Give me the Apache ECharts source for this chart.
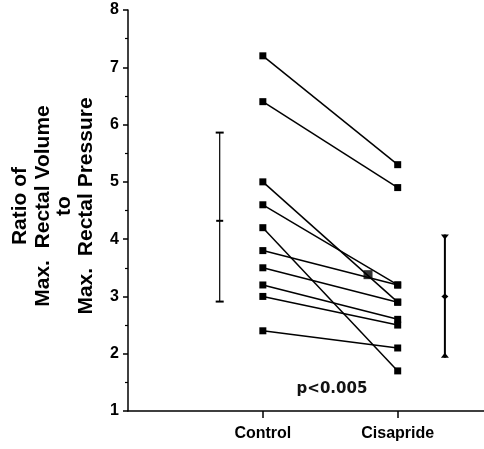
<!DOCTYPE html>
<html>
<head>
<meta charset="utf-8">
<script src="https://cdn.jsdelivr.net/npm/echarts@6/dist/echarts.min.js"></script>
<style>
  html, body { margin: 0; padding: 0; background: #fff; }
  #chart { width: 484px; height: 449px; }
</style>
</head>
<body>
<div id="chart"></div>
<script>
// paired values, one entry per subject
const control = [7.2, 6.4, 5.0, 4.6, 4.2, 3.8, 3.5, 3.2, 3.0, 2.4];
const cisapride = [5.3, 4.9, 2.9, 3.2, 1.7, 3.2, 2.9, 2.6, 2.5, 2.1];
const groupX = [1, 2];
const groupNames = ['Control', 'Cisapride'];

// stray square drawn where two lines cross
const loneX = [1.78];
const loneY = [3.38];

// mean +/- SD bars at the sides
const errX = [0.68, 2.35];
const errMean = [4.32, 3.0];
const errLow = [2.91, 1.93];
const errHigh = [5.86, 4.08];

const yTicks = [1, 2, 3, 4, 5, 6, 7, 8];

const chart = echarts.init(document.getElementById('chart'));

const pairSeries = control.map((c, i) => ({
  type: 'line',
  data: [[groupX[0], c], [groupX[1], cisapride[i]]],
  symbol: 'rect',
  symbolSize: 7,
  showSymbol: true,
  itemStyle: { color: '#000' },
  lineStyle: { color: '#000', width: 1.5 },
  silent: true,
  animation: false
}));

const errSeries = {
  type: 'custom',
  data: errX.map((x, i) => [x, errMean[i], errLow[i], errHigh[i], i]),
  renderItem: (params, api) => {
    const x = api.value(0);
    const mid = api.coord([x, api.value(1)]);
    const lo = api.coord([x, api.value(2)]);
    const hi = api.coord([x, api.value(3)]);
    const heavy = api.value(4) === 1;
    const w = heavy ? 2 : 1.2;
    const cap = 4;
    const style = { stroke: '#000', lineWidth: w };
    const kids = [
      { type: 'line', shape: { x1: lo[0], y1: lo[1], x2: hi[0], y2: hi[1] }, style: style }
    ];
    if (heavy) {
      kids.push(
        { type: 'polygon', shape: { points: [[hi[0] - cap, hi[1]], [hi[0] + cap, hi[1]], [hi[0], hi[1] + 5]] }, style: { fill: '#000' } },
        { type: 'polygon', shape: { points: [[lo[0] - cap, lo[1]], [lo[0] + cap, lo[1]], [lo[0], lo[1] - 5]] }, style: { fill: '#000' } },
        { type: 'polygon', shape: { points: [[mid[0] - 3.5, mid[1]], [mid[0], mid[1] - 3], [mid[0] + 3.5, mid[1]], [mid[0], mid[1] + 3]] }, style: { fill: '#000' } }
      );
    } else {
      kids.push(
        { type: 'line', shape: { x1: hi[0] - cap, y1: hi[1], x2: hi[0] + cap, y2: hi[1] }, style: { stroke: '#000', lineWidth: 2 } },
        { type: 'line', shape: { x1: lo[0] - cap, y1: lo[1], x2: lo[0] + cap, y2: lo[1] }, style: { stroke: '#000', lineWidth: 2 } },
        { type: 'line', shape: { x1: mid[0] - 3.5, y1: mid[1], x2: mid[0] + 3.5, y2: mid[1] }, style: { stroke: '#000', lineWidth: 2 } }
      );
    }
    return { type: 'group', children: kids };
  },
  silent: true,
  animation: false
};

const titleLines = ['Ratio of', 'Max.  Rectal Volume', 'to', 'Max.  Rectal Pressure'];
const titleX = [20, 43, 64, 86];

const option = {
  backgroundColor: '#fff',
  animation: false,
  grid: { left: 128, right: 0, top: 10, bottom: 38 },
  xAxis: {
    type: 'value',
    min: 0,
    max: 2.64,
    interval: 1,
    splitLine: { show: false },
    axisLine: { show: true, lineStyle: { color: '#000', width: 1.5 } },
    axisTick: { show: true, customValues: groupX, length: 7, lineStyle: { color: '#000', width: 1.5 } },
    axisLabel: {
      customValues: groupX,
      formatter: v => groupNames[groupX.indexOf(v)] || '',
      color: '#000',
      fontFamily: 'Liberation Sans',
      fontWeight: 'bold',
      fontSize: 16,
      margin: 15
    }
  },
  yAxis: {
    type: 'value',
    min: 1,
    max: 8,
    interval: 1,
    splitLine: { show: false },
    axisLine: { show: true, lineStyle: { color: '#000', width: 1.5 } },
    axisTick: { show: true, length: 5, lineStyle: { color: '#000', width: 1.5 } },
    minorTick: { show: true, splitNumber: 2, length: 3, lineStyle: { color: '#000', width: 1.2 } },
    axisLabel: {
      formatter: v => yTicks.includes(v) ? String(v) : '',
      color: '#000',
      fontFamily: 'Liberation Sans',
      fontWeight: 'bold',
      fontSize: 16,
      margin: 9
    }
  },
  graphic: titleLines.map((t, i) => ({
    type: 'text',
    x: titleX[i],
    y: 206,
    rotation: Math.PI / 2,
    style: {
      text: t,
      fill: '#000',
      font: 'bold 21px "Liberation Sans"',
      align: 'center',
      verticalAlign: 'middle'
    }
  })).concat([{
    type: 'text',
    x: 332,
    y: 389,
    style: {
      text: 'p<0.005',
      fill: '#111',
      font: 'bold 15px "DejaVu Sans"',
      align: 'center',
      verticalAlign: 'middle'
    }
  }]),
  series: pairSeries.concat([
    {
      type: 'scatter',
      data: loneX.map((x, i) => [x, loneY[i]]),
      symbol: 'rect',
      symbolSize: 9,
      itemStyle: { color: '#000' },
      silent: true
    },
    errSeries
  ])
};

chart.setOption(option);
</script>
</body>
</html>
